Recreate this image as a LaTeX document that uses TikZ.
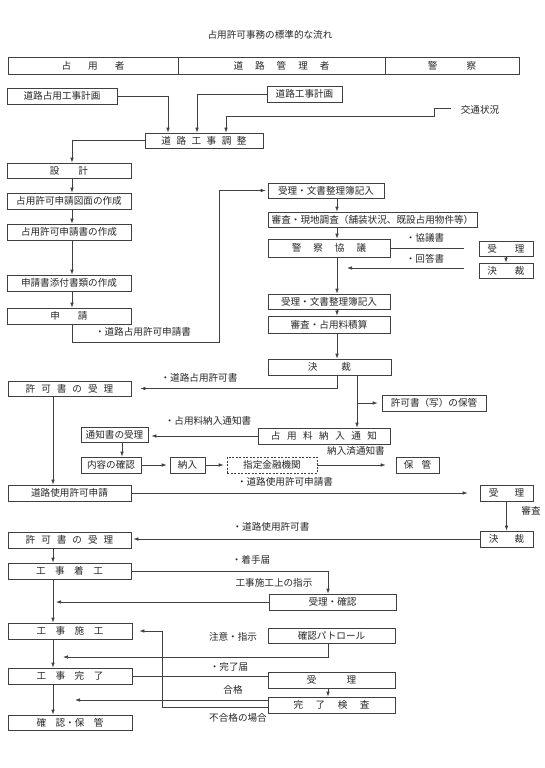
\documentclass[tikz,border=0pt]{standalone}
\usepackage{fontspec}
\setmainfont{Noto Sans CJK JP}
\usetikzlibrary{arrows.meta}
\makeatletter
\newcommand\lsp[2]{\def\lsp@g{#1}\let\lsp@f\relax\@tfor\lsp@c:=#2\do{\ifx\lsp@f\relax\else\hspace{\lsp@g}\fi\lsp@c\let\lsp@f\@empty}}
\makeatother
\newcommand\bx[7][]{\node[box,#1,minimum width={(#5-#3)*1pt},minimum height={(#6-#4)*1pt}] (#2) at ({(#3+#5)/2},{(#4+#6)/2}) {#7};}
\tikzset{
  box/.style={draw=black!75,line width=0.7pt,inner sep=0pt,text=black!85,font=\fontsize{9.6pt}{11pt}\selectfont},
  lab/.style={inner sep=0pt,text=black!85,font=\fontsize{9.6pt}{11pt}\selectfont},
  ln/.style={draw=black!75,line width=0.7pt},
  arr/.style={ln,-{Latex[length=5pt,width=3.6pt]}}
}
\begin{document}
\begin{tikzpicture}[x=1pt,y=-1pt]
\useasboundingbox (0,0) rectangle (544,768);
\node[lab] (title) at (270,35) {占用許可事務の標準的な流れ};
% header
\bx{hA}{8}{57}{178}{74}{\lsp{17pt}{占用者}}
\bx{hB}{178}{57}{385}{74}{\lsp{12pt}{道路管理者}}
\bx{hC}{385}{57}{519}{74}{\lsp{29pt}{警察}}
% top
\bx{plan1}{7}{88}{117}{104}{道路占用工事計画}
\bx{plan2}{267}{86}{342}{102}{道路工事計画}
\node[lab] (traffic) at (480,110) {交通状況};
\bx{adj}{145}{133}{263}{148}{\lsp{5.5pt}{道路工事調整}}
% left column upper
\bx{design}{7}{163}{131}{178}{\lsp{19pt}{設計}}
\bx{zumen}{7}{193}{131}{209}{占用許可申請図面の作成}
\bx{shinsei}{7}{224}{131}{240}{占用許可申請書の作成}
\bx{tenpu}{7}{275}{131}{291}{申請書添付書類の作成}
\bx{apply}{7}{308}{131}{324}{\lsp{18pt}{申請}}
% right column
\bx{r1}{268}{183}{384}{198}{受理・文書整理簿記入}
\bx{r2}{268}{212}{477}{227}{審査・現地調査（舗装状況、既設占用物件等）}
\bx{pc}{268}{239}{390}{257}{\lsp{12pt}{警察協議}}
\bx{pu}{479}{241}{533}{256}{\lsp{18pt}{受理}}
\bx{pk}{479}{263}{533}{278}{\lsp{18pt}{決裁}}
\bx{r3}{268}{294}{390}{309}{受理・文書整理簿記入}
\bx{r4}{268}{316}{390}{333}{審査・占用料積算}
\bx{kessai}{268}{359}{391}{375}{\lsp{24pt}{決裁}}
\bx{kyoka1}{8}{381}{131}{396}{\lsp{6pt}{許可書の受理}}
\bx{hokan1}{382}{395}{486}{411}{許可書（写）の保管}
\bx{notice}{258}{428}{390}{444}{\lsp{6.5pt}{占用料納入通知}}
\bx{tsuchi}{81}{427}{148}{442}{通知書の受理}
\bx{naiyo}{81}{457}{141}{473}{内容の確認}
\bx{nounyu}{170}{457}{205}{473}{納入}
\bx[dashed,dash pattern=on 2pt off 1.5pt]{bank}{227}{457}{317}{473}{指定金融機関}
\bx{hokan2}{396}{457}{439}{473}{\lsp{8pt}{保管}}
\bx{roadapp}{8}{485}{131}{501}{道路使用許可申請}
\bx{pu2}{480}{485}{533}{501}{\lsp{16pt}{受理}}
\bx{pk2}{480}{531}{533}{547}{\lsp{16pt}{決裁}}
\bx{kyoka2}{8}{532}{131}{548}{\lsp{6pt}{許可書の受理}}
\bx{chakko}{8}{563}{131}{579}{\lsp{9.5pt}{工事着工}}
\bx{kakunin}{269}{594}{396}{610}{受理・確認}
\bx{sekou}{8}{623}{132}{639}{\lsp{9.5pt}{工事施工}}
\bx{patrol}{268}{628}{395}{643}{確認パトロール}
\bx{kanryo}{8}{668}{132}{684}{\lsp{9.5pt}{工事完了}}
\bx{uketsuke}{268}{672}{395}{688}{\lsp{30pt}{受理}}
\bx{kensa}{268}{697}{395}{713}{\lsp{12.5pt}{完了検査}}
\bx{hozon}{8}{715}{132}{730}{確\hspace{9.5pt}認・保\hspace{9.5pt}管}
% labels
\node[lab] (lkyogi) at (425,238) {・協議書};
\node[lab] (lkaito) at (425,259) {・回答書};
\node[lab] (lsinsei) at (143,332) {・道路占用許可申請書};
\node[lab] (lkyoka) at (199,378) {・道路占用許可書};
\node[lab] (lnotice) at (208,421) {・占用料納入通知書};
\node[lab] (lnounyu) at (356,451) {納入済通知書};
\node[lab] (lroadapp) at (285,482) {・道路使用許可申請書};
\node[lab] (lshinsa) at (531,511) {審査};
\node[lab] (lroadkyoka) at (271,527) {・道路使用許可書};
\node[lab] (lchakusyu) at (251,560) {・着手届};
\node[lab] (lshiji) at (274,583) {工事施工上の指示};
\node[lab] (lchui) at (233,637) {注意・指示};
\node[lab] (lkanryo) at (229,667) {・完了届};
\node[lab] (lgokaku) at (233,690) {合格};
\node[lab] (lfugokaku) at (238,718) {不合格の場合};
% helper coordinates
\coordinate (a1) at (168,0);
\coordinate (a2) at (197,0);
\coordinate (a3) at (226,0);
\coordinate (xA) at (72,0);
\coordinate (xB) at (53,0);
\coordinate (xR) at (337,0);
\coordinate (xK) at (357,0);
\coordinate (xT) at (122,0);
\coordinate (xP) at (328,0);
\coordinate (xC) at (56,0);
\coordinate (xQ) at (464,0);
\coordinate (tr) at (451,108);
\coordinate (ap1) at (219,342);
\coordinate (q2) at (464,268);
\coordinate (q3) at (347,268);
\coordinate (pt) at (63,657);
\coordinate (g1) at (75,700);
\coordinate (f1) at (162,707);
% connectors
\draw[arr] (plan1.east) -| (a1 |- adj.north);
\draw[arr] (plan2.west) -| (a2 |- adj.north);
\draw[arr] (tr) -- (434,108) -- (434,116) -| (a3 |- adj.north);
\draw[arr] (adj.west) -| (xA |- design.north);
\draw[arr] (xA |- design.south) -- (xA |- zumen.north);
\draw[arr] (xA |- zumen.south) -- (xA |- shinsei.north);
\draw[arr] (xA |- shinsei.south) -- (xA |- tenpu.north);
\draw[arr] (xA |- tenpu.south) -- (xA |- apply.north);
\draw[arr,shorten >=2pt] (xA |- apply.south) |- (ap1) |- (r1.west);
\draw[arr] (xR |- r1.south) -- (xR |- r2.north);
\draw[arr] (xR |- r2.south) -- (xR |- pc.north);
\draw[ln] (pc.east) -- (pc.east -| xQ);
\draw[arr] (q2) -- (q3);
\draw[arr] (pu.south) -- (pk.north);
\draw[arr] (xR |- pc.south) -- (xR |- r3.north);
\draw[arr] (xR |- r3.south) -- (xR |- r4.north);
\draw[arr] (xR |- r4.south) -- (xR |- kessai.north);
\draw[arr,shorten >=9pt] (xR |- kessai.south) |- (kyoka1.east);
\draw[arr] (xK |- kessai.south) -- (xK |- notice.north);
\draw[arr,shorten >=4pt] (xK |- hokan1.west) -- (hokan1.west);
\draw[arr,shorten >=3pt] (notice.west) -- (notice.west -| tsuchi.east);
\draw[arr] (xT |- tsuchi.south) -- (xT |- naiyo.north);
\draw[arr,shorten >=3pt] (naiyo.east) -- (nounyu.west);
\draw[arr,shorten >=3pt] (nounyu.east) -- (bank.west);
\draw[arr,shorten >=10pt] (bank.east) -- (hokan2.west);
\draw[arr] (xB |- kyoka1.south) -- (xB |- roadapp.north);
\draw[arr,shorten >=12pt] (roadapp.east) -- (pu2.west);
\draw[arr] (pu2.south) -- (pk2.north);
\draw[arr,shorten >=2pt] (pk2.west) -- (pk2.west -| kyoka2.east);
\draw[arr] (xB |- kyoka2.south) -- (xB |- chakko.north);
\draw[arr] (chakko.east) -| (xP |- kakunin.north);
\draw[arr] (kakunin.west) -- (kakunin.west -| xC);
\draw[arr] (xB |- chakko.south) -- (xB |- sekou.north);
\draw[arr] (xP |- patrol.south) |- (pt);
\draw[arr] (xB |- sekou.south) -- (xB |- kanryo.north);
\draw[ln] (kanryo.east) -- (kanryo.east -| uketsuke.west);
\draw[arr] (xP |- uketsuke.south) -- (xP |- kensa.north);
\draw[arr] (kensa.west |- g1) -- (g1);
\draw[arr,shorten >=7pt] (kensa.west |- f1) -- (f1) |- (sekou.east);
\draw[arr] (xB |- kanryo.south) -- (xB |- hozon.north);
\end{tikzpicture}
\end{document}
